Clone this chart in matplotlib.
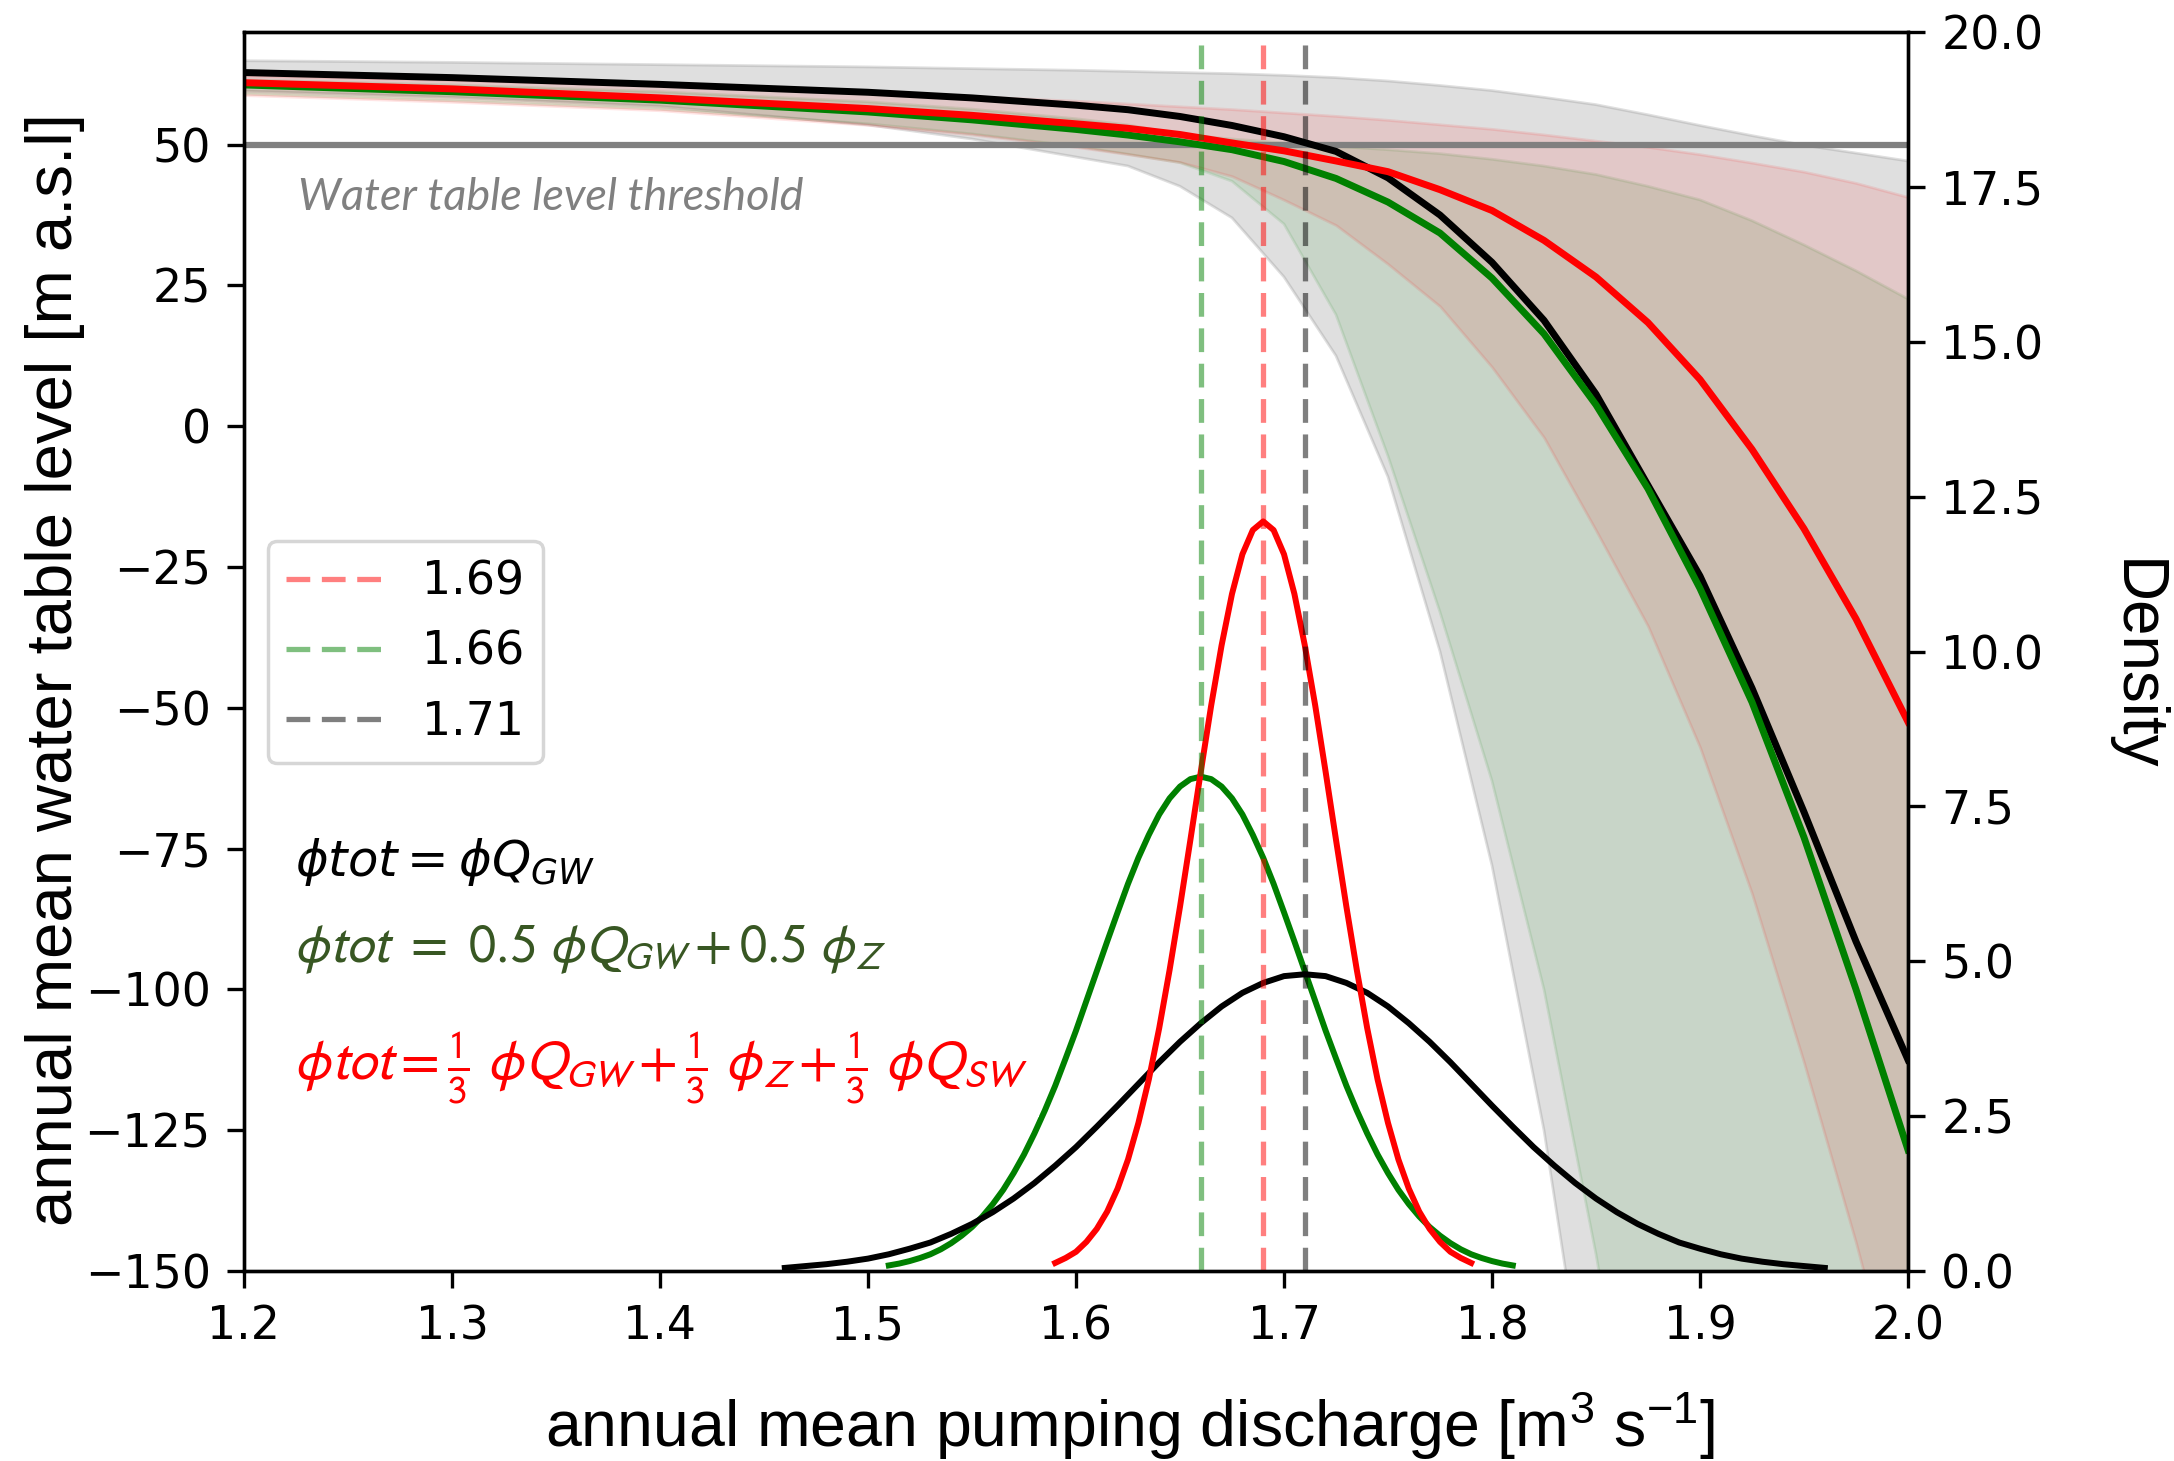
import matplotlib
matplotlib.use("Agg")
import matplotlib.pyplot as plt

plt.rcParams['mathtext.fontset'] = 'custom'
plt.rcParams['mathtext.rm'] = 'Liberation Sans'
plt.rcParams['mathtext.it'] = 'Liberation Sans:italic'
plt.rcParams['mathtext.bf'] = 'Liberation Sans:bold'

# ---------------- data ----------------
q = [1.2, 1.3, 1.4, 1.5, 1.55, 1.6, 1.625, 1.65, 1.675, 1.7, 1.725, 1.75,
     1.775, 1.8, 1.825, 1.85, 1.875, 1.9, 1.925, 1.95, 1.975, 2.0]

black_mean = [62.8, 61.9, 60.7, 59.3, 58.3, 57.0, 56.2, 55.0, 53.4, 51.4, 48.8, 44.1,
              37.5, 29.1, 18.8, 5.7, -10.5, -26.6, -46.5, -68.5, -91.5, -112.5]
black_hi = [64.9, 64.6, 64.2, 63.8, 63.5, 63.2, 63.0, 62.8, 62.6, 62.3, 61.9, 61.3,
            60.5, 59.6, 58.4, 57.1, 55.3, 53.4, 51.6, 49.9, 48.5, 47.1]
black_lo = [59.5, 58.4, 56.8, 53.5, 51.0, 47.8, 46.2, 42.6, 37.0, 26.5, 12.5, -9.0,
            -40.0, -78.0, -125.0, -185.0, -250.0, -320.0, -390.0, -460.0, -530.0, -600.0]

green_mean = [60.6, 59.4, 57.9, 55.8, 54.4, 52.7, 51.7, 50.5, 49.1, 47.0, 44.0, 39.8,
              34.3, 26.3, 16.4, 3.8, -11.1, -28.8, -49.0, -73.0, -100.0, -128.5]
green_hi = [61.5, 60.6, 59.4, 57.6, 56.3, 54.6, 53.5, 51.8, 51.0, 50.3, 49.7, 49.1,
            48.4, 47.4, 46.2, 44.7, 42.6, 40.2, 36.5, 32.2, 27.6, 22.6]
green_lo = [59.0, 57.8, 56.3, 53.7, 51.9, 49.7, 48.3, 46.8, 43.5, 35.9, 19.8, -5.3,
            -33.0, -63.0, -100.0, -147.0, -200.0, -260.0, -320.0, -380.0, -440.0, -500.0]

red_mean = [61.0, 59.9, 58.3, 56.4, 55.2, 53.7, 52.9, 51.8, 50.3, 48.9, 47.1, 45.2,
            42.0, 38.3, 33.0, 26.5, 18.4, 8.3, -4.1, -18.2, -34.2, -52.5]
red_hi = [62.3, 61.5, 60.5, 59.3, 58.6, 57.8, 57.3, 56.8, 56.3, 55.7, 55.1, 54.4,
          53.6, 52.8, 51.8, 50.7, 49.6, 48.3, 46.8, 45.2, 43.2, 40.7]
red_lo = [58.8, 57.6, 56.1, 53.5, 51.8, 49.6, 48.3, 46.9, 44.4, 40.2, 35.7, 28.8,
          21.3, 10.5, -2.0, -18.5, -35.5, -57.0, -83.0, -113.0, -145.0, -180.0]

# density curves (right axis)
dens_red_x = [1.590, 1.595, 1.600, 1.605, 1.610, 1.615, 1.620, 1.625, 1.630, 1.635,
              1.640, 1.645, 1.650, 1.655, 1.660, 1.665, 1.670, 1.675, 1.680, 1.685,
              1.690, 1.695, 1.700, 1.705, 1.710, 1.715, 1.720, 1.725, 1.730, 1.735,
              1.740, 1.745, 1.750, 1.755, 1.760, 1.765, 1.770, 1.775, 1.780, 1.785, 1.790]
dens_red = [0.13, 0.21, 0.31, 0.47, 0.68, 0.96, 1.33, 1.80, 2.39, 3.09,
            3.92, 4.86, 5.88, 6.96, 8.06, 9.13, 10.10, 10.93, 11.57, 11.96,
            12.10, 11.96, 11.57, 10.93, 10.10, 9.13, 8.06, 6.96, 5.88, 4.86,
            3.92, 3.09, 2.39, 1.80, 1.33, 0.96, 0.68, 0.47, 0.31, 0.21, 0.13]

dens_green_x = [1.510, 1.515, 1.520, 1.525, 1.530, 1.535, 1.540, 1.545, 1.550, 1.555,
                1.560, 1.565, 1.570, 1.575, 1.580, 1.585, 1.590, 1.595, 1.600, 1.605,
                1.610, 1.615, 1.620, 1.625, 1.630, 1.635, 1.640, 1.645, 1.650, 1.655,
                1.660, 1.665, 1.670, 1.675, 1.680, 1.685, 1.690, 1.695, 1.700, 1.705,
                1.710, 1.715, 1.720, 1.725, 1.730, 1.735, 1.740, 1.745, 1.750, 1.755,
                1.760, 1.765, 1.770, 1.775, 1.780, 1.785, 1.790, 1.795, 1.800, 1.805, 1.810]
dens_green = [0.09, 0.12, 0.16, 0.21, 0.27, 0.35, 0.45, 0.57, 0.71, 0.88,
              1.08, 1.31, 1.58, 1.88, 2.22, 2.59, 2.99, 3.43, 3.88, 4.36,
              4.84, 5.32, 5.79, 6.25, 6.67, 7.04, 7.37, 7.63, 7.82, 7.94,
              7.98, 7.94, 7.82, 7.63, 7.37, 7.04, 6.67, 6.25, 5.79, 5.32,
              4.84, 4.36, 3.88, 3.43, 2.99, 2.59, 2.22, 1.88, 1.58, 1.31,
              1.08, 0.88, 0.71, 0.57, 0.45, 0.35, 0.27, 0.21, 0.16, 0.12, 0.09]

dens_black_x = [1.46, 1.47, 1.48, 1.49, 1.50, 1.51, 1.52, 1.53, 1.54, 1.55,
                1.56, 1.57, 1.58, 1.59, 1.60, 1.61, 1.62, 1.63, 1.64, 1.65,
                1.66, 1.67, 1.68, 1.69, 1.70, 1.71, 1.72, 1.73, 1.74, 1.75,
                1.76, 1.77, 1.78, 1.79, 1.80, 1.81, 1.82, 1.83, 1.84, 1.85,
                1.86, 1.87, 1.88, 1.89, 1.90, 1.91, 1.92, 1.93, 1.94, 1.95, 1.96]
dens_black = [0.05, 0.08, 0.11, 0.15, 0.20, 0.27, 0.36, 0.46, 0.60, 0.76,
              0.95, 1.17, 1.42, 1.70, 2.00, 2.33, 2.67, 3.02, 3.37, 3.70,
              4.00, 4.27, 4.49, 4.65, 4.76, 4.79, 4.76, 4.65, 4.49, 4.27,
              4.00, 3.70, 3.37, 3.02, 2.67, 2.33, 2.00, 1.70, 1.42, 1.17,
              0.95, 0.76, 0.60, 0.46, 0.36, 0.27, 0.20, 0.15, 0.11, 0.08, 0.05]

optimum = [1.69, 1.66, 1.71]
optimum_labels = ['1.69', '1.66', '1.71']
threshold = 50

x_ticks = [1.2, 1.3, 1.4, 1.5, 1.6, 1.7, 1.8, 1.9, 2.0]
y_ticks = [-150, -125, -100, -75, -50, -25, 0, 25, 50]
d_ticks = [0.0, 2.5, 5.0, 7.5, 10.0, 12.5, 15.0, 17.5, 20.0]

# ---------------- figure ----------------
W, H = 2174, 1461
fig = plt.figure(figsize=(W / 100, H / 100), dpi=100)
L, R, T, B = 244, 1908, 32, 1271
ax = fig.add_axes([L / W, 1 - B / H, (R - L) / W, (B - T) / H])

ax.fill_between(q, black_lo, black_hi, color='gray', alpha=0.25, lw=2, zorder=1)
ax.fill_between(q, green_lo, green_hi, color='green', alpha=0.1, lw=2, zorder=1)
ax.fill_between(q, red_lo, red_hi, color='red', alpha=0.1, lw=2, zorder=1)
ax.axhline(threshold, color='gray', lw=4.5, zorder=1.5)
ax.plot(q, black_mean, color='black', lw=5.0, zorder=2)
ax.plot(q, green_mean, color='green', lw=5.0, zorder=2)
ax.plot(q, red_mean, color='red', lw=5.0, zorder=2)

ax.set_xlim(1.2, 2.0)
ax.set_ylim(-150, 70)
ax.set_xticks(x_ticks)
ax.set_yticks(y_ticks)

ax2 = ax.twinx()
ax2.plot(dens_green_x, dens_green, color='green', lw=4.3)
ax2.plot(dens_black_x, dens_black, color='black', lw=4.3)
ax2.plot(dens_red_x, dens_red, color='red', lw=4.3)
for v, c, lab in zip(optimum, ['red', 'green', 'black'], optimum_labels):
    ax2.axvline(v, color=c, alpha=0.5, lw=3.8, linestyle=(0, (4.5, 2.2)), label=lab)
ax2.set_ylim(0, 20)
ax2.set_yticks(d_ticks)
ax2.set_xlim(1.2, 2.0)

for a in (ax, ax2):
    for s in a.spines.values():
        s.set_linewidth(2.4)
    a.tick_params(axis='both', direction='out', length=12, width=2.4, pad=12,
                  labelsize=33)

leg = ax2.legend(loc='upper left', bbox_to_anchor=(0.0144, 0.589), borderaxespad=0,
                 fontsize=33, handlelength=2.06, handletextpad=0.9, labelspacing=0.55)
leg.get_frame().set_linewidth(2.5)

renderer = fig.canvas.get_renderer()


def fit(t, target, dim='width'):
    for _ in range(3):
        bb = t.get_window_extent(renderer)
        cur = bb.width if dim == 'width' else bb.height
        t.set_fontsize(t.get_fontsize() * target / cur)


def px(xp, yp):
    return (1.2 + (xp - L) / (R - L) * 0.8, 70 - (yp - T) / (B - T) * 220)


t0 = ax2.text(*px(298, 198), 'Water table level threshold', transform=ax.transData,
              family='Lato', style='italic', color='gray', fontsize=28,
              ha='left', va='center')
fit(t0, 506)

t1 = ax2.text(*px(295, 862), r'$\phi tot = \phi Q_{GW}$', transform=ax.transData,
              math_fontfamily='dejavusans', color='black', fontsize=34,
              ha='left', va='center')
fit(t1, 300)
t2 = ax2.text(*px(295, 950),
              r'$\phi tot\ =\ \mathit{0.5}\ \phi Q_{GW} + \mathit{0.5}\ \phi_{Z}$',
              transform=ax.transData, math_fontfamily='stixsans', color='#385723',
              fontsize=34, ha='left', va='center')
fit(t2, 592)
t3 = ax2.text(*px(295, 1068),
              r'$\phi tot = \frac{1}{3}\ \phi Q_{GW} + \frac{1}{3}\ \phi_{Z} + \frac{1}{3}\ \phi Q_{SW}$',
              transform=ax.transData, math_fontfamily='stixsans', color='red',
              fontsize=34, ha='left', va='center',
              bbox=dict(boxstyle='square,pad=0.2', fc='white', ec='none'))
fit(t3, 733)

xl = fig.text(1130 / W, 1 - 1425 / H, r'annual mean pumping discharge [m$^3$ s$^{-1}$]',
              family='Liberation Sans', fontsize=46, ha='center', va='center')
fit(xl, 1170)
yl = fig.text(55 / W, 1 - 670 / H, 'annual mean water table level [m a.s.l]',
              family='Liberation Sans', fontsize=46, ha='center', va='center',
              rotation=90)
fit(yl, 1113, 'height')
dl = fig.text(2135 / W, 1 - 665 / H, 'Density', family='Liberation Sans',
              fontsize=46, ha='center', va='center', rotation=270)
fit(dl, 213, 'height')

fig.savefig('out.png', dpi=100)
